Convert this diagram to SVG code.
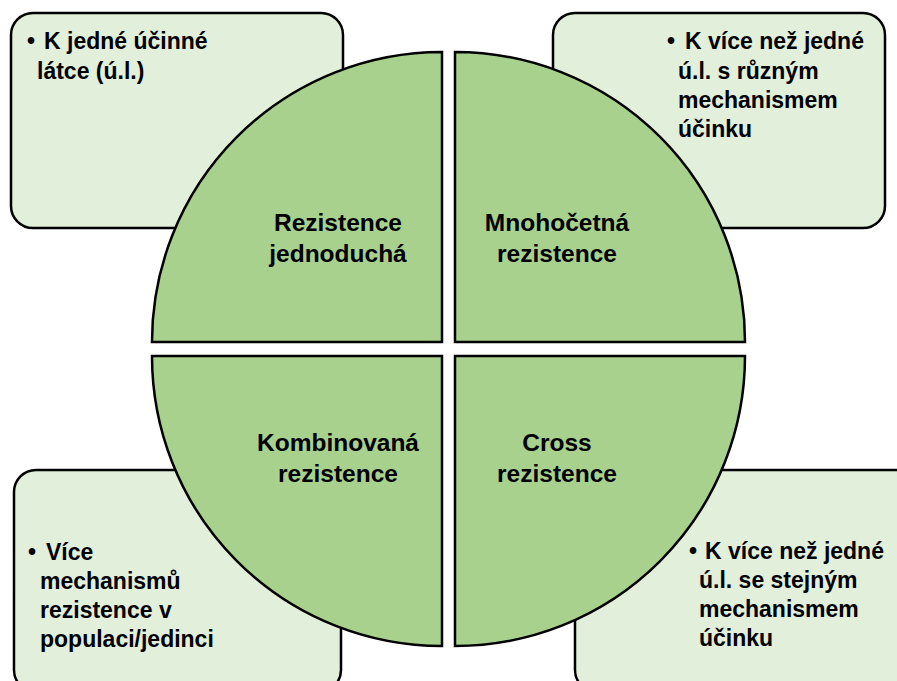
<svg xmlns="http://www.w3.org/2000/svg" width="897" height="681" viewBox="0 0 897 681">
<style>
.box{fill:#E2EFDA;stroke:#000;stroke-width:2.5}
.quad{fill:#A9D18E;stroke:#000;stroke-width:2.5;stroke-linejoin:miter}
text{font-family:"Liberation Sans",Arial,sans-serif;font-weight:bold;fill:#000}
.lbl{font-size:24.5px;text-anchor:middle}
.bt{font-size:23px}
</style>
<rect width="897" height="681" fill="#fff"/>
<g id="box-tl">
<rect class="box" x="11" y="13" width="332" height="215" rx="22"/>
<text class="bt" x="27" y="49">•</text>
<text class="bt" x="44" y="49">K jedné účinné</text>
<text class="bt" x="37" y="79">látce (ú.l.)</text>
</g>
<g id="box-tr">
<rect class="box" x="553" y="13" width="332" height="215" rx="22"/>
<text class="bt" x="667" y="49">•</text>
<text class="bt" x="685" y="49">K více než jedné</text>
<text class="bt" x="678" y="79">ú.l. s různým</text>
<text class="bt" x="678" y="108">mechanismem</text>
<text class="bt" x="678" y="137">účinku</text>
</g>
<g id="box-bl">
<rect class="box" x="14" y="470" width="327" height="222" rx="22"/>
<text class="bt" x="28" y="560">•</text>
<text class="bt" x="46" y="560">Více</text>
<text class="bt" x="40" y="589">mechanismů</text>
<text class="bt" x="40" y="618">rezistence v</text>
<text class="bt" x="40" y="647">populaci/jedinci</text>
</g>
<g id="box-br">
<rect class="box" x="575" y="470" width="345" height="222" rx="22"/>
<text class="bt" x="689" y="559">•</text>
<text class="bt" x="705" y="559">K více než jedné</text>
<text class="bt" x="699" y="588">ú.l. se stejným</text>
<text class="bt" x="699" y="617">mechanismem</text>
<text class="bt" x="699" y="646">účinku</text>
</g>
<g id="quad-tl">
<path class="quad" d="M442,342 L152,342 A290,290 0 0 1 442,52 Z"/>
<text class="lbl" x="338" y="231">Rezistence</text>
<text class="lbl" x="338" y="262">jednoduchá</text>
</g>
<g id="quad-tr">
<path class="quad" d="M455,342 L455,52 A290,290 0 0 1 745,342 Z"/>
<text class="lbl" x="557" y="231">Mnohočetná</text>
<text class="lbl" x="557" y="262">rezistence</text>
</g>
<g id="quad-bl">
<path class="quad" d="M442,356 L442,646 A290,290 0 0 1 152,356 Z"/>
<text class="lbl" x="338" y="451">Kombinovaná</text>
<text class="lbl" x="338" y="482">rezistence</text>
</g>
<g id="quad-br">
<path class="quad" d="M455,356 L745,356 A290,290 0 0 1 455,646 Z"/>
<text class="lbl" x="557" y="451">Cross</text>
<text class="lbl" x="557" y="482">rezistence</text>
</g>
<g id="connectors"></g>
</svg>
